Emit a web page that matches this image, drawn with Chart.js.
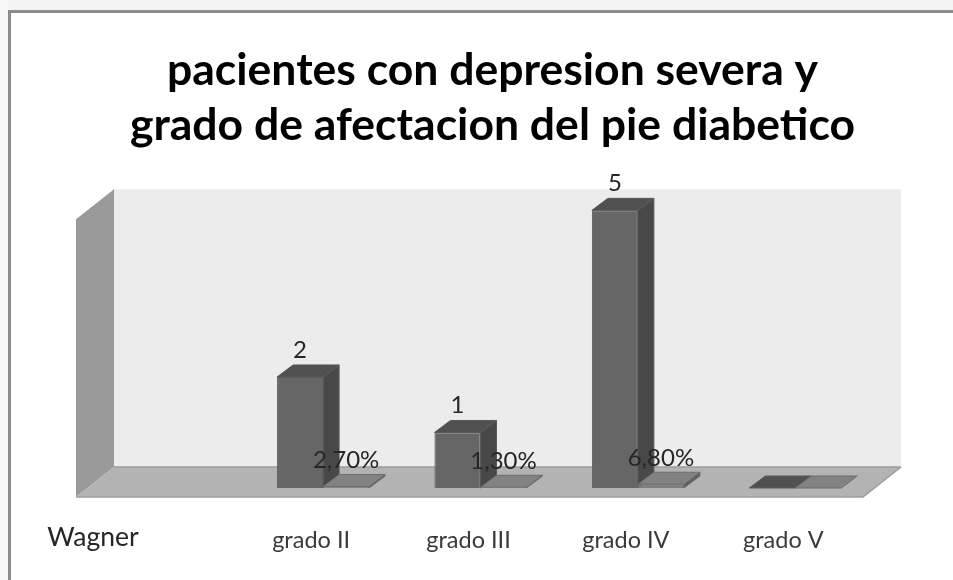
<!DOCTYPE html>
<html><head><meta charset="utf-8">
<style>html,body{margin:0;padding:0;background:#fff}#wrap{width:953px;height:580px}canvas{display:block}</style>
<script src="https://cdn.jsdelivr.net/npm/chart.js@4"></script>
</head><body><div id="wrap"><canvas id="c"></canvas></div>
<script>
const titleLines = ['pacientes con depresion severa y', 'grado de afectacion del pie diabetico'];
const axisName = 'Wagner';
const categories = ['', 'grado II', 'grado III', 'grado IV', 'grado V'];
const pacientes = [null, 2, 1, 5, 0];
const porcentaje = [null, 0.027, 0.013, 0.068, 0];
const pacientesLabels = [null, '2', '1', '5', null];
const porcentajeLabels = [null, '2,70%', '1,30%', '6,80%', null];
const FONT = 'Lato, "Open Sans", sans-serif';
const D = {bx:16, by:-12, wx:27, wy:-21, fx:-11, fy:9};

function poly(ctx, pts, fill, stroke){
  ctx.beginPath(); pts.forEach((p,i)=> i?ctx.lineTo(p[0],p[1]):ctx.moveTo(p[0],p[1])); ctx.closePath();
  ctx.fillStyle=fill; ctx.fill();
  if(stroke){ctx.strokeStyle=stroke;ctx.lineWidth=1;ctx.stroke();}
}
const scene = {
  id:'scene',
  beforeDraw(chart){
    const {ctx, chartArea:a, width, height} = chart;
    ctx.save();
    ctx.fillStyle='#ffffff'; ctx.fillRect(0,0,width,height);
    ctx.fillStyle='#f4f4f4'; ctx.fillRect(0,0,width,10);
    ctx.fillStyle='#f8f8f8'; ctx.fillRect(0,0,8,height);
    ctx.strokeStyle='#8c8c8c'; ctx.lineWidth=3;
    ctx.beginPath(); ctx.moveTo(9.5,height); ctx.lineTo(9.5,11.5); ctx.lineTo(width,11.5); ctx.stroke();
    const l=a.left+D.fx, r=a.right+D.fx, b=a.bottom+D.fy, t=a.top+D.fy;
    const w={x:D.wx-D.fx, y:D.wy-D.fy};
    // back wall, side wall, floor
    poly(ctx,[[l+w.x,t+w.y],[r+w.x,t+w.y],[r+w.x,b+w.y],[l+w.x,b+w.y]],'#ececec');
    poly(ctx,[[l,t],[l+w.x,t+w.y],[l+w.x,b+w.y],[l,b]],'#9a9a9a');
    poly(ctx,[[l,b],[l+w.x,b+w.y],[r+w.x,b+w.y],[r,b]],'#b3b3b3');
    ctx.strokeStyle='#9c9c9c'; ctx.lineWidth=1.5;
    ctx.beginPath(); ctx.moveTo(l+w.x,b+w.y); ctx.lineTo(r+w.x,b+w.y); ctx.moveTo(l,b); ctx.lineTo(r,b); ctx.lineTo(r+w.x,b+w.y); ctx.stroke();
    ctx.restore();
  },
  beforeDatasetsDraw(chart){
    const ctx=chart.ctx;
    const tones=[{top:'#505050',side:'#484848',edge:'#5a5a5a'},{top:'#828282',side:'#5e5e5e',edge:'#6e6e6e'}];
    ctx.save();
    chart.data.datasets.forEach((ds,i)=>{
      chart.getDatasetMeta(i).data.forEach((bar,j)=>{
        if(ds.data[j]===null) return;
        const p=bar.getProps(['x','y','base','width'],true);
        const L=p.x-p.width/2,R=p.x+p.width/2,T=p.y,B=p.base;
        if(B-T>0.5) poly(ctx,[[R,T],[R+D.bx,T+D.by],[R+D.bx,B+D.by],[R,B]],tones[i].side,tones[i].edge);
        poly(ctx,[[L,T],[R,T],[R+D.bx,T+D.by],[L+D.bx,T+D.by]],tones[i].top,tones[i].edge);
      });
    });
    ctx.restore();
  },
  afterDatasetsDraw(chart){
    const ctx=chart.ctx;
    ctx.save();
    ctx.textAlign='center'; ctx.textBaseline='middle'; ctx.fillStyle='#262626';
    ctx.font='24px '+FONT;
    chart.getDatasetMeta(0).data.forEach((bar,j)=>{
      if(pacientesLabels[j]) ctx.fillText(pacientesLabels[j],bar.x,bar.y-27);
    });
    chart.getDatasetMeta(1).data.forEach((bar,j)=>{
      if(porcentajeLabels[j]) ctx.fillText(porcentajeLabels[j],bar.x,bar.y-26);
    });
    ctx.font='26.5px '+FONT;
    ctx.fillText(axisName,93,537);
    ctx.restore();
  }
};
new Chart(document.getElementById('c'),{
  type:'bar',
  data:{labels:categories,datasets:[
    {label:'pacientes',data:pacientes,backgroundColor:'#666666',borderColor:'#5a5a5a',borderWidth:1,categoryPercentage:0.585,barPercentage:1},
    {label:'porcentaje',data:porcentaje,backgroundColor:'#7e7e7e',borderColor:'#6e6e6e',borderWidth:1,categoryPercentage:0.585,barPercentage:1}
  ]},
  options:{
    responsive:true,maintainAspectRatio:false,animation:false,
    layout:{padding:{left:87,right:55,top:10,bottom:0}},
    plugins:{
      legend:{display:false},tooltip:{enabled:false},
      title:{display:true,text:titleLines,color:'#000000',align:'center',
        font:{family:FONT,size:44.5,weight:'bold',lineHeight:1.24},padding:{top:33,bottom:57}}
    },
    scales:{
      x:{grid:{display:false},border:{display:false},afterFit(s){s.height=92;},
        ticks:{color:'#3a3a3a',font:{family:FONT,size:23.5},labelOffset:-12,padding:30,maxRotation:0,autoSkip:false}},
      y:{position:'right',display:true,min:0,max:5,grid:{display:false},border:{display:false},ticks:{display:false},afterFit(s){s.width=24;}}
    }
  },
  plugins:[scene]
});
</script></body></html>
